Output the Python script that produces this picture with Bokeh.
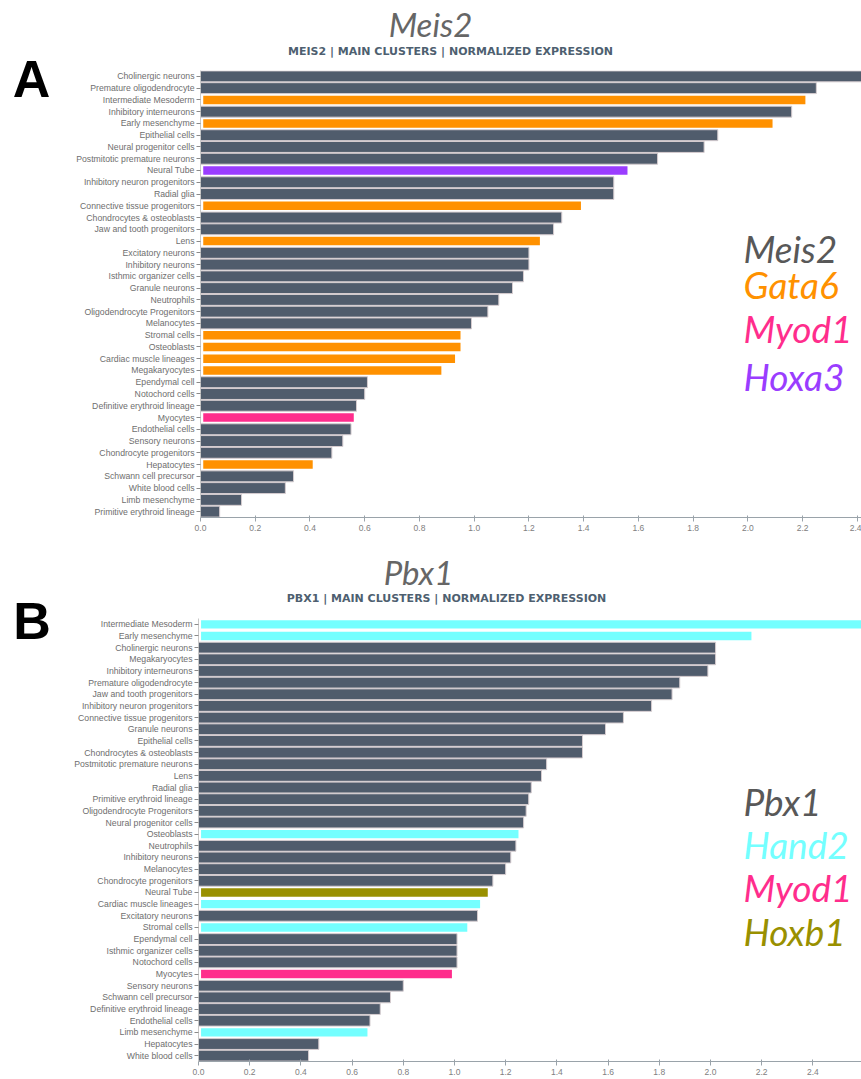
from bokeh.plotting import figure
from bokeh.models import ColumnDataSource, Label, FactorRange, Range1d, FixedTicker, NumeralTickFormatter
from bokeh.layouts import column, row
from bokeh.core.properties import value
from bokeh.embed import file_html
from bokeh.resources import INLINE

# ---------------- data: panel A (Meis2) ----------------
cats_a = [
    "Cholinergic neurons", "Premature oligodendrocyte", "Intermediate Mesoderm",
    "Inhibitory interneurons", "Early mesenchyme", "Epithelial cells",
    "Neural progenitor cells", "Postmitotic premature neurons", "Neural Tube",
    "Inhibitory neuron progenitors", "Radial glia", "Connective tissue progenitors",
    "Chondrocytes & osteoblasts", "Jaw and tooth progenitors", "Lens",
    "Excitatory neurons", "Inhibitory neurons", "Isthmic organizer cells",
    "Granule neurons", "Neutrophils", "Oligodendrocyte Progenitors", "Melanocytes",
    "Stromal cells", "Osteoblasts", "Cardiac muscle lineages", "Megakaryocytes",
    "Ependymal cell", "Notochord cells", "Definitive erythroid lineage", "Myocytes",
    "Endothelial cells", "Sensory neurons", "Chondrocyte progenitors", "Hepatocytes",
    "Schwann cell precursor", "White blood cells", "Limb mesenchyme",
    "Primitive erythroid lineage",
]
vals_a = [
    2.45, 2.25, 2.21, 2.16, 2.09, 1.89, 1.84, 1.67, 1.56, 1.51, 1.51, 1.39,
    1.32, 1.29, 1.24, 1.20, 1.20, 1.18, 1.14, 1.09, 1.05, 0.99, 0.95, 0.95,
    0.93, 0.88, 0.61, 0.60, 0.57, 0.56, 0.55, 0.52, 0.48, 0.41, 0.34, 0.31,
    0.15, 0.07,
]
groups_a = {
    "Intermediate Mesoderm": "Gata6", "Early mesenchyme": "Gata6",
    "Neural Tube": "Hoxa3", "Connective tissue progenitors": "Gata6",
    "Lens": "Gata6", "Stromal cells": "Gata6", "Osteoblasts": "Gata6",
    "Cardiac muscle lineages": "Gata6", "Megakaryocytes": "Gata6",
    "Myocytes": "Myod1", "Hepatocytes": "Gata6",
}
legend_a = ["Meis2", "Gata6", "Myod1", "Hoxa3"]

# ---------------- data: panel B (Pbx1) ----------------
cats_b = [
    "Intermediate Mesoderm", "Early mesenchyme", "Cholinergic neurons",
    "Megakaryocytes", "Inhibitory interneurons", "Premature oligodendrocyte",
    "Jaw and tooth progenitors", "Inhibitory neuron progenitors",
    "Connective tissue progenitors", "Granule neurons", "Epithelial cells",
    "Chondrocytes & osteoblasts", "Postmitotic premature neurons", "Lens",
    "Radial glia", "Primitive erythroid lineage", "Oligodendrocyte Progenitors",
    "Neural progenitor cells", "Osteoblasts", "Neutrophils", "Inhibitory neurons",
    "Melanocytes", "Chondrocyte progenitors", "Neural Tube",
    "Cardiac muscle lineages", "Excitatory neurons", "Stromal cells",
    "Ependymal cell", "Isthmic organizer cells", "Notochord cells", "Myocytes",
    "Sensory neurons", "Schwann cell precursor", "Definitive erythroid lineage",
    "Endothelial cells", "Limb mesenchyme", "Hepatocytes", "White blood cells",
]
vals_b = [
    2.65, 2.16, 2.02, 2.02, 1.99, 1.88, 1.85, 1.77, 1.66, 1.59, 1.50, 1.50,
    1.36, 1.34, 1.30, 1.29, 1.28, 1.27, 1.25, 1.24, 1.22, 1.20, 1.15, 1.13,
    1.10, 1.09, 1.05, 1.01, 1.01, 1.01, 0.99, 0.80, 0.75, 0.71, 0.67, 0.66,
    0.47, 0.43,
]
groups_b = {
    "Intermediate Mesoderm": "Hand2", "Early mesenchyme": "Hand2",
    "Osteoblasts": "Hand2", "Neural Tube": "Hoxb1",
    "Cardiac muscle lineages": "Hand2", "Stromal cells": "Hand2",
    "Myocytes": "Myod1", "Limb mesenchyme": "Hand2",
}
legend_b = ["Pbx1", "Hand2", "Myod1", "Hoxb1"]

x_ticks = [0.0, 0.2, 0.4, 0.6, 0.8, 1.0, 1.2, 1.4, 1.6, 1.8, 2.0, 2.2, 2.4]

# ---------------- styles ----------------
COLORS = {
    "Meis2": "#585858", "Pbx1": "#585858",
    "Gata6": "#ff9100", "Hoxa3": "#9a3dff", "Myod1": "#ff2d8c",
    "Hand2": "#74ffff", "Hoxb1": "#999000",
}
BAR_GRAY = "#505c6c"
TOTAL_W = 861
LETTER_W = 60
MAIN_W = TOTAL_W - LETTER_W


def blank(width, height, x0, x1, y0):
    """Figure whose data coordinates are page pixels (y grows downward)."""
    p = figure(width=width, height=height, output_backend="svg", toolbar_location=None,
               x_range=Range1d(x0, x1), y_range=Range1d(y0 + height, y0),
               x_axis_type=None, y_axis_type=None,
               min_border=0, min_border_left=0, min_border_right=0,
               min_border_top=0, min_border_bottom=0)
    p.outline_line_color = None
    p.xgrid.visible = False
    p.ygrid.visible = False
    return p


def make_panel(cats, vals, groups, y0, panel_h, header_h, frame_top, frame_bottom,
               frame_left, xmax, letter, letter_xy, gene, gene_xy, subtitle, sub_xy,
               legend, legend_x, legend_ys):
    n = len(cats)
    # letter column (page x 0..60)
    pl = blank(LETTER_W, panel_h, 0, LETTER_W, y0)
    pl.text(x=[letter_xy[0]], y=[letter_xy[1]], text=[letter],
            text_font=value("Liberation Sans"), text_font_style="bold",
            text_font_size="52px", text_color="#000000",
            text_align="center", text_baseline="middle")

    # header: its frame is aligned with the chart frame (page x frame_left..861)
    ph = blank(MAIN_W, header_h, frame_left, TOTAL_W, y0)
    ph.text(x=[gene_xy[0]], y=[gene_xy[1]], text=[gene],
            text_font=value("Lato"), text_font_style="italic",
            text_font_size="33px", text_color="#666666",
            text_align="center", text_baseline="middle")
    ph.text(x=[sub_xy[0]], y=[sub_xy[1]], text=[subtitle],
            text_font=value("DejaVu Sans"), text_font_style="bold",
            text_font_size="11px", text_color="#4e5f70",
            text_align="center", text_baseline="middle")

    # main chart
    main_top = y0 + header_h
    main_h = panel_h - header_h
    top = frame_top - main_top
    bottom = main_top + main_h - frame_bottom
    left = frame_left - LETTER_W
    p = figure(width=MAIN_W, height=main_h, output_backend="svg", toolbar_location=None,
               y_range=FactorRange(factors=list(reversed(cats))),
               x_range=Range1d(0, xmax),
               min_border_left=left, min_border_right=0,
               min_border_top=top, min_border_bottom=bottom)
    p.outline_line_color = None
    p.xgrid.visible = False
    p.ygrid.visible = False

    gray_c = [c for c in cats if c not in groups]
    gray_v = [v for c, v in zip(cats, vals) if c not in groups]
    col_c = [c for c in cats if c in groups]
    col_v = [v for c, v in zip(cats, vals) if c in groups]
    col_f = [COLORS[groups[c]] for c in col_c]

    p.hbar(y="y", right="v", left=0, height=0.93,
           source=ColumnDataSource(dict(y=gray_c, v=gray_v)),
           fill_color=BAR_GRAY, line_color="#d6cdd0", line_width=1)
    p.hbar(y="y", right="v", left=0.01, height=0.72,
           source=ColumnDataSource(dict(y=col_c, v=col_v, c=col_f)),
           fill_color="c", line_color=None)

    xa = p.xaxis[0]
    xa.ticker = FixedTicker(ticks=x_ticks)
    xa.formatter = NumeralTickFormatter(format="0.0")
    xa.axis_line_color = "#9aa3aa"
    xa.major_tick_line_color = "#9aa3aa"
    xa.major_tick_in = 2
    xa.major_tick_out = 4
    xa.minor_tick_line_color = None
    xa.major_label_text_font = "Liberation Sans"
    xa.major_label_text_font_size = "8.5px"
    xa.major_label_text_color = "#808080"
    xa.major_label_standoff = 3

    ya = p.yaxis[0]
    ya.axis_line_color = "#c8c8c8"
    ya.major_tick_line_color = "#8a8a8a"
    ya.major_tick_in = 0
    ya.major_tick_out = 4
    ya.minor_tick_line_color = None
    ya.major_label_text_font = "Liberation Sans"
    ya.major_label_text_font_size = "8.7px"
    ya.major_label_text_color = "#6e6e6e"
    ya.major_label_standoff = 2

    frame_h = frame_bottom - frame_top
    frame_w = TOTAL_W - frame_left

    def dx(px):
        return (px - frame_left) / frame_w * xmax

    def dy(py):
        return n - (py - frame_top) / frame_h * n

    for name, ly in zip(legend, legend_ys):
        p.add_layout(Label(x=dx(legend_x), y=dy(ly), text=name,
                           text_font="Lato", text_font_style="italic",
                           text_font_size="37px", text_color=COLORS[name],
                           text_align="left", text_baseline="middle"))

    return row(pl, column(ph, p, spacing=0), spacing=0)


panel_a = make_panel(cats_a, vals_a, groups_a, y0=0, panel_h=540, header_h=60,
                     frame_top=70, frame_bottom=517, frame_left=200, xmax=2.415,
                     letter="A", letter_xy=(31, 78),
                     gene="Meis2", gene_xy=(430, 23),
                     subtitle="MEIS2 | MAIN CLUSTERS | NORMALIZED EXPRESSION",
                     sub_xy=(450, 51),
                     legend=legend_a, legend_x=743, legend_ys=[248, 284, 328, 376])

panel_b = make_panel(cats_b, vals_b, groups_b, y0=540, panel_h=539, header_h=72,
                     frame_top=618, frame_bottom=1061, frame_left=198, xmax=2.59,
                     letter="B", letter_xy=(31.5, 620),
                     gene="Pbx1", gene_xy=(418, 571),
                     subtitle="PBX1 | MAIN CLUSTERS | NORMALIZED EXPRESSION",
                     sub_xy=(446, 598),
                     legend=legend_b, legend_x=743, legend_ys=[801, 844, 887, 931])

layout = column(panel_a, panel_b, spacing=0)
open("out.html", "w").write(file_html(layout, INLINE))
